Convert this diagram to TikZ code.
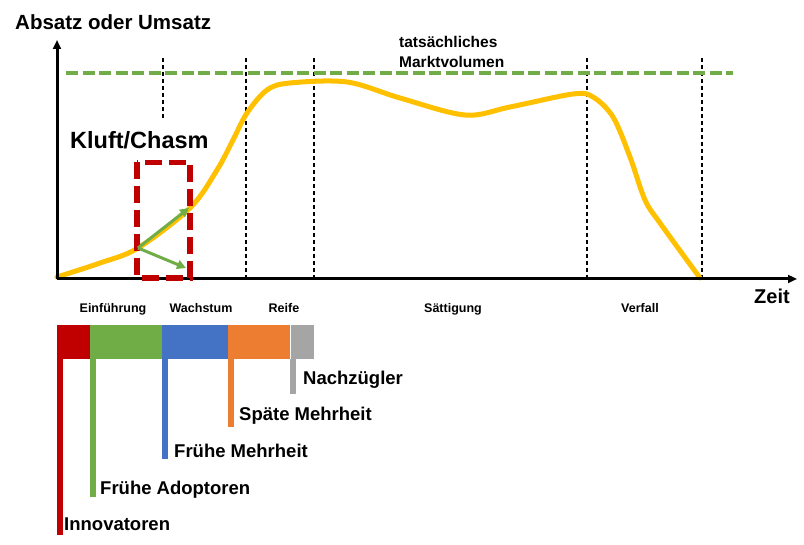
\documentclass[tikz,border=0pt]{standalone}
\usepackage{fontspec}
\setmainfont{Liberation Sans}
\usetikzlibrary{arrows.meta}
\definecolor{kurve}{HTML}{FFC000}
\definecolor{gruen}{HTML}{70AD47}
\definecolor{rot}{HTML}{C00000}
\definecolor{blau}{HTML}{4472C4}
\definecolor{orange}{HTML}{ED7D31}
\definecolor{grau}{HTML}{A5A5A5}

\begin{document}
\begin{tikzpicture}[x=1pt,y=-1pt]
    \tikzstyle{every node}=[inner sep=0pt]
    \tikzstyle{achse}=[line width=3pt,-{Triangle[length=9pt,width=8pt]}]
    \tikzstyle{grenze}=[line width=1.4pt,dash pattern=on 4pt off 3pt]
    \tikzstyle{phase}=[anchor=base,font=\bfseries\fontsize{12.5}{15}\selectfont]
    \tikzstyle{gruppe}=[anchor=base west,font=\bfseries\fontsize{18.5}{22}\selectfont]
    \tikzstyle{segment}=[rectangle,anchor=north west,minimum height=34pt]
    \tikzstyle{stiel}=[line width=5.5pt]
    \tikzstyle{pfeil}=[gruen,line width=3pt,-{Triangle[length=9pt,width=9pt]}]
    \useasboundingbox (0,0) rectangle (804,545);
    \coordinate (O) at (57,279);
    \coordinate (yEnde) at (57,40);
    \coordinate (xEnde) at (797,279);
    \foreach \x in {246,314,587,702}
      \draw[grenze] (\x,58) -- (\x,279);
    \draw[grenze] (163,58) -- (163,119);
    \draw[gruen,line width=4pt,dash pattern=on 12pt off 4.5pt] (66,73.5) -- (733,73.5);
    \draw[kurve,line width=5pt,line cap=round] plot[smooth,tension=0.55] coordinates {
      (57,277) (100,263) (138,248) (190,208) (217,170) (233,140) (247,113)
      (267,90) (290,83) (347,82) (400,98) (465,115) (510,107) (573,94)
      (593,97) (613,117) (630,157) (645,200) (660,223) (700,278)};
    \draw[achse] (O) -- (yEnde);
    \draw[achse] (O) -- (xEnde);
    \draw[rot,line width=5.5pt,dash pattern=on 17pt off 7pt] (137,162.5) rectangle (190,278);
    \coordinate (start) at (138,248);
    \coordinate (oben) at (189,208);
    \coordinate (unten) at (186,268);
    \draw[pfeil] (start) -- (oben);
    \draw[pfeil] (start) -- (unten);
    \node[anchor=base west,font=\bfseries\fontsize{20.5}{24}\selectfont] (yLabel) at (15,30) {Absatz oder Umsatz};
    \node[anchor=base west,font=\bfseries\fontsize{20}{24}\selectfont] (xLabel) at (754,304) {Zeit};
    \node[anchor=base west,font=\bfseries\fontsize{23.5}{28}\selectfont] (kluft) at (70,149) {Kluft/Chasm};
    \node[anchor=north west,align=left,font=\bfseries\fontsize{15.5}{20}\selectfont] (markt) at (399,36) {tats\"achliches\\Marktvolumen};
    \node[phase] (einf) at (113,313) {Einführung};
    \node[phase] (wachs) at (201,313) {Wachstum};
    \node[phase] (reife) at (284,313) {Reife};
    \node[phase] (saett) at (453,313) {Sättigung};
    \node[phase] (verf) at (640,313) {Verfall};
    \node[segment,fill=rot,minimum width=33pt] (sInno) at (57,325) {};
    \node[segment,fill=gruen,minimum width=72pt] (sFrueh) at (90,325) {};
    \node[segment,fill=blau,minimum width=66pt] (sMehr) at (162,325) {};
    \node[segment,fill=orange,minimum width=62pt] (sSpaet) at (228,325) {};
    \node[segment,fill=grau,minimum width=23pt] (sNach) at (291,325) {};
    \node[gruppe] (lInno) at (64,530) {Innovatoren};
    \node[gruppe] (lFrueh) at (100,494) {Frühe Adoptoren};
    \node[gruppe] (lMehr) at (174,457) {Frühe Mehrheit};
    \node[gruppe] (lSpaet) at (239,421) {Späte Mehrheit};
    \node[gruppe] (lNach) at (303,385) {Nachzügler};
    \coordinate (eInno) at (59.75,535);
    \coordinate (eFrueh) at (92.75,497);
    \coordinate (eMehr) at (164.75,459);
    \coordinate (eSpaet) at (230.75,427);
    \coordinate (eNach) at (293,394);
    \draw[stiel,rot] ([xshift=2.75pt]sInno.south west) -- (eInno);
    \draw[stiel,gruen] ([xshift=2.75pt]sFrueh.south west) -- (eFrueh);
    \draw[stiel,blau] ([xshift=2.75pt]sMehr.south west) -- (eMehr);
    \draw[stiel,orange] ([xshift=2.75pt]sSpaet.south west) -- (eSpaet);
    \draw[stiel,grau] ([xshift=2pt]sNach.south west) -- (eNach);
\end{tikzpicture}
\end{document}
